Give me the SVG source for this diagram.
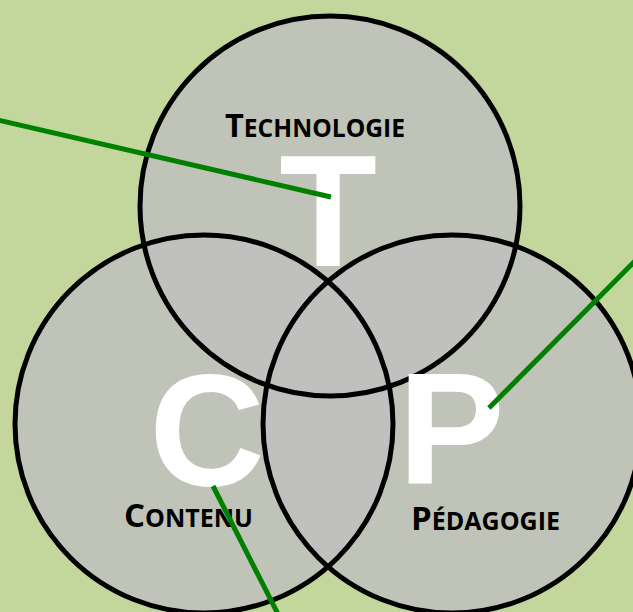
<svg xmlns="http://www.w3.org/2000/svg" width="633" height="612" viewBox="0 0 633 612">
<style>
.fill{fill:#bfbfbf;fill-opacity:0.8;stroke:none}
.ring{fill:none;stroke:#000;stroke-width:5}
.big{font-family:"Liberation Sans",Arial,sans-serif;font-weight:bold;font-size:160px;fill:#fff}
.lbl{font-family:"Open Sans","Liberation Sans",sans-serif;font-weight:bold;fill:#000}
.cap{font-size:33px}
.sc{font-size:25px}
.link{stroke:#008000;stroke-width:5;fill:none}
</style>
<defs>
<circle id="cT" cx="330" cy="206" r="190"/>
<circle id="cC" cx="204" cy="424" r="189"/>
<circle id="cP" cx="452" cy="424" r="189"/>
</defs>
<rect width="633" height="612" fill="#c3d69b"/>
<g id="circle-fills">
<use href="#cT" class="fill"/>
<use href="#cC" class="fill"/>
<use href="#cP" class="fill"/>
</g>
<g id="circle-outlines">
<use href="#cT" class="ring"/>
<use href="#cC" class="ring"/>
<use href="#cP" class="ring"/>
</g>
<g id="node-T">
<text class="big" x="328" y="266" text-anchor="middle">T</text>
<text class="lbl" x="225" y="137" textLength="180" lengthAdjust="spacingAndGlyphs"><tspan class="cap">T</tspan><tspan class="sc">ECHNOLOGIE</tspan></text>
</g>
<g id="node-C">
<text class="big" x="207" y="485" text-anchor="middle">C</text>
<text class="lbl" x="124" y="527" textLength="129" lengthAdjust="spacingAndGlyphs"><tspan class="cap">C</tspan><tspan class="sc">ONTENU</tspan></text>
</g>
<g id="node-P">
<text class="big" x="398" y="484">P</text>
<text class="lbl" x="411" y="530" textLength="149" lengthAdjust="spacingAndGlyphs"><tspan class="cap">P</tspan><tspan class="sc">ÉDAGOGIE</tspan></text>
</g>
<g id="connectors">
<line class="link" x1="-2" y1="120" x2="331" y2="197"/>
<line class="link" x1="213" y1="486" x2="278" y2="614"/>
<line class="link" x1="489" y1="408" x2="637" y2="259"/>
</g>
</svg>
